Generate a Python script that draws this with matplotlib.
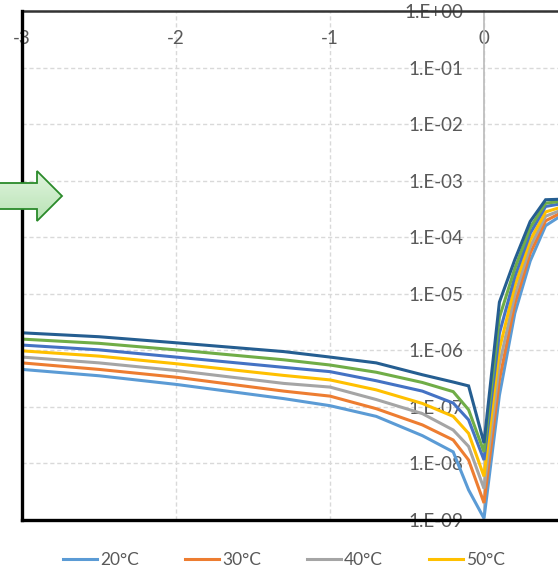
import numpy as np
import matplotlib
matplotlib.use("Agg")
import matplotlib.pyplot as plt
from matplotlib.ticker import FixedLocator, FuncFormatter, NullLocator
from matplotlib.patches import Polygon
from matplotlib.lines import Line2D

plt.rcParams['font.family'] = ['Lato', 'DejaVu Sans']

# Bias voltage (V)
voltage = [-3.0, -2.5, -2.0, -1.3, -1.0, -0.7, -0.4, -0.2, -0.1, 0.0, 0.1, 0.2, 0.3, 0.4, 0.5]

# Current (A) per temperature
i_20 = [4.6e-7, 3.55e-7, 2.5e-7, 1.4e-7, 1.05e-7, 6.8e-8, 3.1e-8, 1.6e-8, 3.4e-9, 1.07e-9,
        1.6e-7, 4.5e-6, 3.8e-5, 1.6e-4, 2.4e-4]
i_30 = [6.0e-7, 4.6e-7, 3.35e-7, 1.9e-7, 1.55e-7, 9.3e-8, 4.8e-8, 2.6e-8, 1.15e-8, 2.0e-9,
        3.0e-7, 6.6e-6, 5.2e-5, 1.95e-4, 2.7e-4]
i_40 = [7.6e-7, 6.0e-7, 4.4e-7, 2.6e-7, 2.24e-7, 1.35e-7, 7.6e-8, 3.9e-8, 2.0e-8, 3.6e-9,
        5.6e-7, 9.5e-6, 6.8e-5, 2.35e-4, 3.0e-4]
i_50 = [9.8e-7, 7.9e-7, 5.8e-7, 3.6e-7, 3.0e-7, 2.0e-7, 1.15e-7, 6.8e-8, 3.4e-8, 5.9e-9,
        1.05e-6, 1.38e-5, 8.9e-5, 2.8e-4, 3.4e-4]
i_60 = [1.24e-6, 1.02e-6, 7.6e-7, 5.0e-7, 4.2e-7, 2.9e-7, 1.9e-7, 1.17e-7, 5.9e-8, 1.15e-8,
        2.0e-6, 2.0e-5, 1.17e-4, 3.5e-4, 3.9e-4]
i_70 = [1.58e-6, 1.33e-6, 1.02e-6, 6.8e-7, 5.5e-7, 4.1e-7, 2.7e-7, 1.86e-7, 8.9e-8, 1.6e-8,
        3.8e-6, 2.8e-5, 1.48e-4, 4.0e-4, 4.3e-4]
i_80 = [2.04e-6, 1.74e-6, 1.36e-6, 9.5e-7, 7.6e-7, 6.0e-7, 3.7e-7, 2.75e-7, 2.35e-7, 2.3e-8,
        7.1e-6, 4.0e-5, 1.9e-4, 4.6e-4, 4.7e-4]

labels = ["20°C", "30°C", "40°C", "50°C", "60°C", "70°C", "80°C"]
series = [i_20, i_30, i_40, i_50, i_60, i_70, i_80]
colors = ["#5B9BD5", "#ED7D31", "#A5A5A5", "#FFC000", "#4472C4", "#70AD47", "#255E91"]

x_ticks = [-3, -2, -1, 0]
y_exponents = list(range(-9, 1))

W, H = 558, 577
fig = plt.figure(figsize=(W / 100, H / 100), dpi=100)
left_px, right_px, top_px, bottom_px = 22, 558, 11, 520
ax = fig.add_axes([left_px / W, 1 - bottom_px / H,
                   (right_px - left_px) / W, (bottom_px - top_px) / H])

ax.set_yscale('log')
px_per_volt = 154.0
ax.set_xlim(-3, -3 + (right_px - left_px) / px_per_volt)
ax.set_ylim(1e-9, 1.0)

handles = []
for lab, vals, col in zip(labels, series, colors):
    h, = ax.plot(voltage, vals, color=col, lw=2.2, zorder=3,
                 solid_joinstyle='miter', label=lab)
    handles.append(h)

# Ticks and grid
ax.xaxis.set_major_locator(FixedLocator(x_ticks))
ax.yaxis.set_major_locator(FixedLocator([10.0 ** e for e in y_exponents]))
ax.yaxis.set_minor_locator(NullLocator())
ax.xaxis.set_minor_locator(NullLocator())
ax.yaxis.set_major_formatter(FuncFormatter(
    lambda v, p: "1.E{:+03d}".format(int(round(np.log10(v))))))
ax.xaxis.set_major_formatter(FuncFormatter(lambda v, p: "{:d}".format(int(round(v)))))

ax.grid(True, color="#D9D9D9", lw=1.0, linestyle=(0, (3, 2)))
ax.set_axisbelow(True)

# Axes crossing: y axis at x=0, x axis at the top (y=1)
ax.spines['left'].set_position(('data', 0))
ax.spines['left'].set_color('#BFBFBF')
ax.spines['left'].set_linewidth(1.3)
ax.spines['bottom'].set_position(('data', 1.0))
ax.spines['bottom'].set_visible(False)
ax.spines['right'].set_visible(False)
ax.spines['top'].set_color('#333333')
ax.spines['top'].set_linewidth(1.8)

ax.tick_params(axis='y', length=0, pad=15, labelsize=13.5, labelcolor='#595959')
ax.tick_params(axis='x', length=0, pad=14, labelsize=13.5, labelcolor='#595959')

# Black frame on the left and bottom edges
ax.add_line(Line2D([0, 0], [0, 1], transform=ax.transAxes, color='black',
                   lw=2.4, clip_on=False, zorder=4))
ax.add_line(Line2D([0, 1], [0, 0], transform=ax.transAxes, color='black',
                   lw=2.4, clip_on=False, zorder=4))

# Legend
fig.legend(handles=handles[:4], labels=labels[:4], loc='center left',
           bbox_to_anchor=(63 / W, 1 - 560 / H), ncol=4, frameon=False,
           fontsize=12.5, labelcolor='#595959', handlelength=1.96,
           handletextpad=0.17, columnspacing=2.65, borderpad=0, borderaxespad=0)

# Block arrow pointing right
ov = fig.add_axes([0, 0, 1, 1], zorder=10)
ov.set_xlim(0, W)
ov.set_ylim(H, 0)
ov.axis('off')
arrow_pts = [(-5, 183), (37, 183), (37, 171), (62, 196), (37, 221), (37, 209), (-5, 209)]
arrow = Polygon(arrow_pts, closed=True, facecolor='none', edgecolor='#2A8A2A',
                lw=1.3, joinstyle='miter', zorder=3)
grad = np.linspace(0, 1, 64).reshape(-1, 1)
cmap = matplotlib.colors.LinearSegmentedColormap.from_list('g', ['#E0F4DE', '#B8E3B4'])
img = ov.imshow(grad, cmap=cmap, extent=(-5, 62, 221, 171), aspect='auto', zorder=2)
clip = Polygon(arrow_pts, closed=True, transform=ov.transData)
img.set_clip_path(clip)
ov.add_patch(arrow)
ov.set_xlim(0, W)
ov.set_ylim(H, 0)

fig.savefig("out.png", dpi=100)
